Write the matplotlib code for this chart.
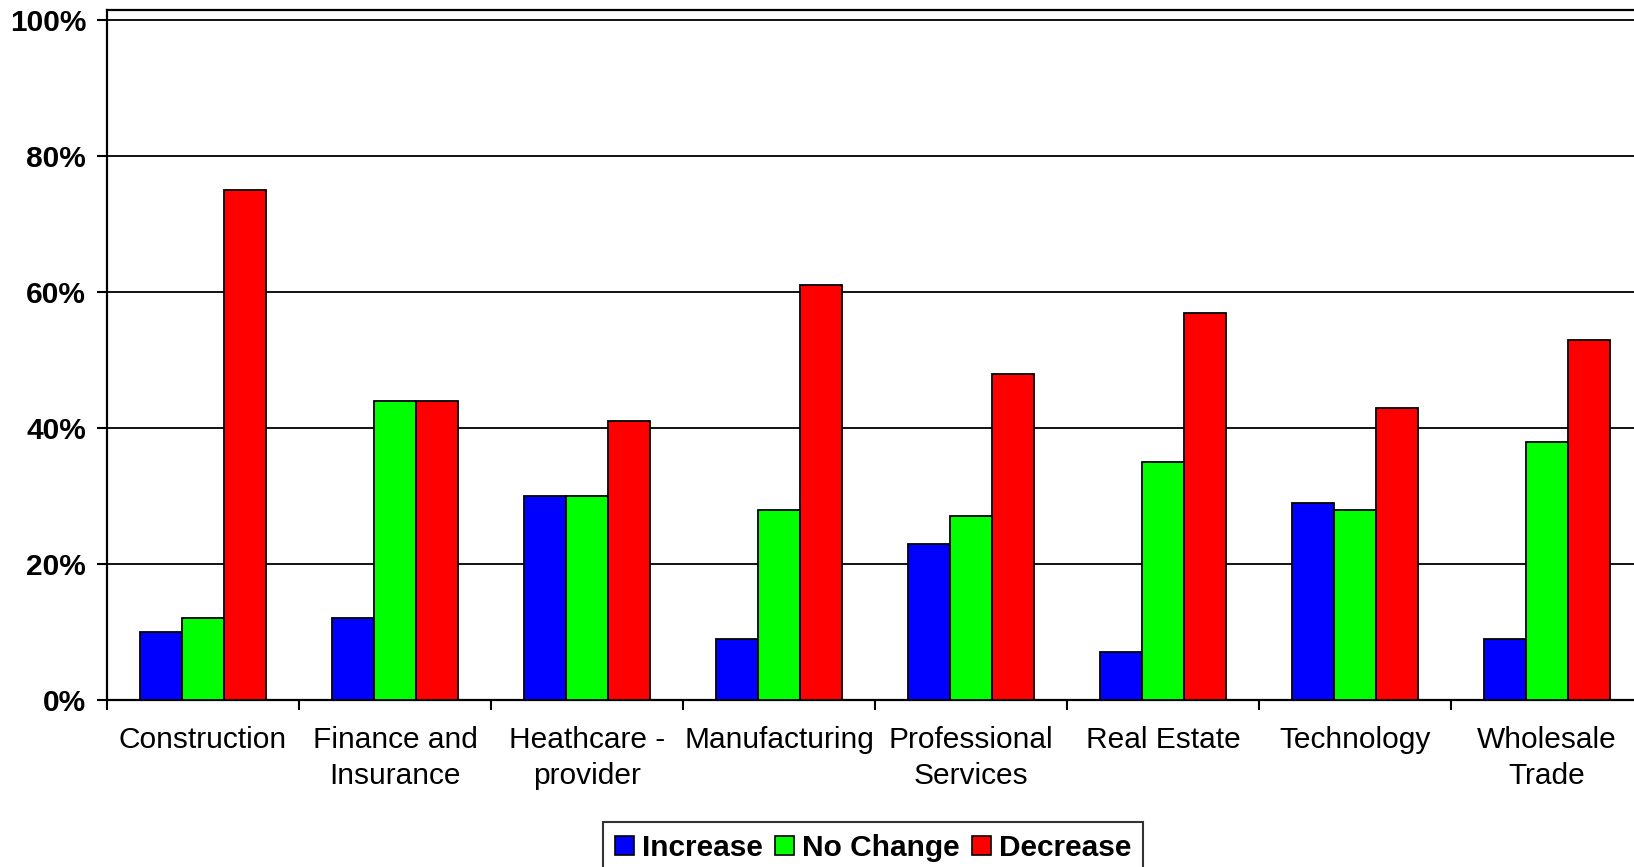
import matplotlib
matplotlib.use("Agg")
import matplotlib.pyplot as plt
import numpy as np
from matplotlib.patches import Patch
from matplotlib.ticker import PercentFormatter, FixedLocator

plt.rcParams['font.family'] = ['Liberation Sans', 'DejaVu Sans']

categories = ["Construction", "Finance and\nInsurance", "Heathcare -\nprovider",
              "Manufacturing", "Professional\nServices", "Real Estate",
              "Technology", "Wholesale\nTrade"]
series_names = ["Increase", "No Change", "Decrease"]
increase = [10, 12, 30, 9, 23, 7, 29, 9]
no_change = [12, 44, 30, 28, 27, 35, 28, 38]
decrease = [75, 44, 41, 61, 48, 57, 43, 53]
y_ticks = [0, 20, 40, 60, 80, 100]

colors = ["#0000FF", "#00FF00", "#FF0000"]
series = [increase, no_change, decrease]
FS = 21.5

W, H = 1634, 867
fig = plt.figure(figsize=(W / 100, H / 100), dpi=100)
ax = fig.add_axes([107 / W, 167 / H, 1536 / W, 690 / H])

x = np.arange(len(categories))
bw = 0.22
for i, (vals, col) in enumerate(zip(series, colors)):
    ax.bar(x + (i - 1) * bw, vals, width=bw, color=col, edgecolor="black",
           linewidth=1.3, zorder=3)

ax.set_xlim(-0.5, len(categories) - 0.5)
ax.set_ylim(0, 101.5)

ax.set_yticks(y_ticks)
ax.yaxis.set_major_formatter(PercentFormatter(decimals=0))
ax.grid(axis="y", color="black", linewidth=1.3, zorder=0)

ax.set_xticks(x)
ax.set_xticklabels(categories, fontsize=FS, linespacing=1.35)
ax.xaxis.set_minor_locator(FixedLocator(np.arange(-0.5, len(categories), 1.0)))
ax.tick_params(axis="x", which="major", length=0, pad=19)
ax.tick_params(axis="x", which="minor", length=7, width=1.5, direction="out")
ax.tick_params(axis="y", length=7, width=1.5, direction="out", pad=8,
               labelsize=FS)
for lbl in ax.get_yticklabels():
    lbl.set_fontweight("bold")

for s in ax.spines.values():
    s.set_linewidth(1.6)
    s.set_color("black")

handles = [Patch(facecolor=c, edgecolor="black", linewidth=1.2) for c in colors]
leg = fig.legend(handles, series_names, loc="upper center",
                 bbox_to_anchor=(873 / W, 1 - 822 / H), ncol=3,
                 prop={"size": FS, "weight": "bold"},
                 frameon=True, fancybox=False, edgecolor="black",
                 handlelength=0.65, handleheight=0.6, handletextpad=0.25,
                 columnspacing=0.42, borderpad=0.4, borderaxespad=0)
leg.get_frame().set_linewidth(1.5)

fig.savefig("out.png", dpi=100)
